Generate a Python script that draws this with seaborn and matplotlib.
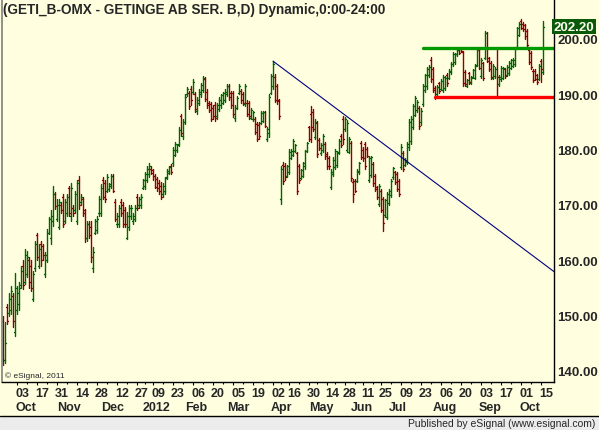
import numpy as np
import pandas as pd
import matplotlib
matplotlib.use('Agg')
import matplotlib.pyplot as plt
import matplotlib.transforms as mtransforms
from matplotlib.patches import Rectangle
from matplotlib.lines import Line2D
import seaborn as sns

# GETI_B daily bars, Sep 2011 - Oct 2012
highs = [
    150.0, 148.8, 152.0, 154.0, 155.3, 154.0, 157.7,
    155.3, 156.0, 159.0, 160.0, 162.0, 161.7, 160.5, 160.0, 158.0, 163.5,
    165.0, 163.0, 163.5, 163.0, 161.5, 165.6, 167.8, 169.0, 173.4, 172.3,
    171.0, 171.0, 170.5, 172.0, 171.0, 172.0, 173.5, 174.0, 170.0, 172.5,
    174.5, 175.2, 172.0, 171.5, 169.3, 167.0, 167.0, 167.0, 162.4, 167.4,
    168.0, 171.6, 173.8, 175.0, 174.5, 175.6, 174.0, 175.6, 175.6, 171.0,
    168.5, 170.0, 171.0, 170.5, 169.6, 168.7, 170.0, 170.0, 168.5, 170.0,
    172.0, 171.5, 172.0, 174.7, 176.0, 177.0, 177.5, 177.0,
    176.5, 175.5, 175.0, 174.5, 174.1, 174.0, 175.0, 176.5, 177.0, 177.4,
    180.5, 181.4, 181.0, 184.1, 186.4, 185.5, 190.0, 191.3, 190.6, 191.5,
    192.8, 190.4, 189.5, 191.0, 192.0, 193.3, 193.1, 191.0, 188.8, 188.6,
    188.0, 188.6, 188.5, 189.5, 190.0, 190.5, 191.0, 191.9, 191.9, 190.6, 190.6,
    188.0, 189.7, 191.9, 191.0, 190.5, 191.9, 189.0, 188.8, 187.5, 187.0,
    185.9, 185.0, 185.0, 187.0, 187.0, 187.0, 184.1, 190.0, 193.7, 196.0,
    193.7, 191.9, 189.2, 177.0, 177.8, 177.5, 177.2, 180.1,
    180.1, 181.9, 181.0, 179.6, 177.4, 176.5, 177.8, 180.0, 181.4, 184.3,
    187.9, 187.3, 185.5, 185.2, 182.1, 181.2, 182.8, 181.4, 179.6, 178.9,
    176.5, 178.6, 180.1, 179.8, 181.9, 182.8, 186.0, 185.9, 185.3, 182.3,
    181.6, 174.7, 174.7, 176.5, 177.8, 181.6, 180.4, 181.4, 180.4, 178.9,
    178.9, 177.8, 175.6, 173.5, 173.8, 172.9, 171.4, 171.1, 172.3, 172.9,
    174.7, 176.9, 176.2, 175.9, 174.7, 181.0, 179.7, 178.5, 181.4, 185.5,
    186.0, 188.2, 189.7, 189.0, 187.9, 187.5, 191.9, 193.7, 194.9, 195.3,
    196.7, 194.9, 191.5, 191.7, 192.2, 192.8, 193.5, 193.3, 193.8, 194.6, 195.8,
    197.6, 197.5, 198.2, 198.3, 198.6, 197.8, 194.4, 192.8, 194.0, 193.3,
    194.6, 195.5, 198.6, 198.3, 196.5, 195.9, 201.4, 201.3, 196.7, 196.0,
    195.5, 195.0, 198.6, 193.5, 195.1, 195.0, 194.8, 195.3, 196.0, 196.4,
    196.5, 198.6, 202.2, 203.1, 203.6, 203.0, 202.8, 201.8, 198.2, 197.8,
    194.6, 194.6, 193.7, 195.5, 196.4, 203.3,
]
lows = [
    141.0, 141.5, 148.5, 150.0, 150.3, 148.0, 146.3,
    150.3, 151.0, 155.0, 154.8, 155.7, 157.0, 155.0, 154.5, 152.6, 158.0,
    160.0, 158.5, 159.0, 160.0, 157.0, 159.7, 164.7, 163.0, 166.2, 169.3,
    167.0, 165.6, 168.5, 166.0, 166.7, 168.0, 168.0, 167.0, 168.0, 168.5,
    166.5, 169.3, 170.0, 168.0, 163.3, 163.5, 164.0, 159.7, 157.9, 164.7,
    165.0, 168.0, 168.0, 171.0, 170.5, 172.3, 172.5, 173.0, 172.3, 167.0,
    166.0, 166.0, 168.0, 166.0, 166.0, 163.8, 165.5, 167.5, 166.5, 167.0,
    169.0, 169.5, 169.5, 172.9, 172.9, 174.1, 175.0, 175.5,
    174.5, 173.0, 172.5, 172.0, 171.0, 171.5, 172.0, 174.7, 175.5, 175.6,
    177.0, 178.8, 179.5, 180.6, 182.5, 182.0, 184.6, 189.7, 187.3, 188.0,
    190.0, 186.8, 186.5, 188.0, 189.5, 190.4, 188.8, 187.5, 186.8, 185.2,
    185.5, 185.2, 185.5, 187.0, 187.5, 188.2, 188.6, 189.7, 189.0, 187.5, 185.9,
    185.2, 187.3, 190.0, 188.5, 188.0, 187.9, 186.0, 185.5, 185.5, 185.2,
    182.8, 181.6, 182.0, 184.6, 185.0, 184.0, 181.6, 182.3, 190.0, 191.0,
    188.6, 188.3, 185.5, 170.2, 173.8, 174.5, 175.0, 175.6,
    178.3, 178.8, 179.6, 172.0, 174.0, 174.6, 175.0, 176.5, 179.6, 181.6,
    181.4, 183.4, 181.9, 178.7, 180.0, 179.0, 179.6, 178.3, 176.5, 176.5,
    172.9, 175.3, 176.5, 176.8, 179.2, 180.4, 181.0, 183.4, 179.6, 179.3,
    174.3, 170.5, 172.3, 174.1, 175.6, 178.3, 178.0, 176.5, 178.6, 174.1,
    175.0, 173.5, 172.5, 171.1, 169.8, 168.7, 165.3, 167.8, 167.5, 169.9,
    171.4, 174.7, 173.8, 172.6, 171.6, 176.5, 176.1, 177.0, 177.4, 180.0,
    181.0, 183.7, 186.0, 186.8, 183.7, 184.5, 187.9, 190.4, 191.0, 193.1,
    192.2, 190.4, 189.2, 189.7, 190.2, 190.7, 190.4, 190.8, 191.5, 192.8, 193.7,
    195.1, 195.5, 197.0, 197.2, 197.6, 191.5, 191.5, 191.3, 191.8, 191.8,
    193.0, 192.8, 195.1, 194.5, 193.0, 192.6, 196.4, 195.8, 194.2, 192.8,
    192.8, 193.0, 189.5, 191.5, 192.4, 192.8, 193.0, 193.3, 193.5, 194.6,
    195.0, 195.1, 198.2, 200.5, 201.8, 201.5, 200.0, 198.6, 195.5, 194.6,
    192.2, 192.5, 191.9, 192.5, 192.2, 193.7,
]
opens = [
    149.0, 142.0, 151.5, 150.5, 151.0, 153.5, 147.0,
    151.0, 152.0, 155.5, 159.0, 156.0, 157.5, 160.0, 159.0, 153.0, 158.5,
    164.5, 159.0, 163.0, 162.5, 157.5, 160.0, 165.0, 164.0, 167.0, 172.0,
    167.5, 166.0, 170.0, 171.5, 167.0, 168.5, 173.0, 168.0, 169.5, 169.0,
    167.0, 174.5, 170.5, 171.0, 169.0, 164.0, 166.5, 166.0, 158.5, 165.0,
    165.5, 168.5, 168.5, 174.5, 174.0, 172.5, 172.8, 173.5, 175.2, 170.5,
    166.5, 166.5, 170.5, 170.0, 169.0, 164.0, 166.0, 168.0, 167.0, 167.5,
    171.5, 170.0, 170.0, 173.0, 173.5, 174.5, 175.5, 176.5,
    176.3, 175.2, 174.7, 174.0, 173.5, 172.0, 172.5, 175.0, 175.8, 177.0,
    177.5, 179.0, 180.0, 181.0, 186.0, 182.5, 185.0, 190.0, 190.2, 191.0,
    190.5, 190.0, 187.0, 188.5, 190.0, 190.8, 192.8, 190.5, 188.5, 188.2,
    187.5, 188.0, 186.0, 187.3, 188.0, 188.5, 189.0, 190.0, 191.5, 190.2, 190.2,
    185.8, 187.6, 190.2, 190.6, 190.0, 188.3, 188.5, 188.5, 185.8, 185.5,
    185.5, 184.7, 184.5, 184.8, 185.2, 186.8, 182.0, 183.0, 190.3, 191.5,
    193.2, 191.5, 189.0, 171.0, 177.3, 177.0, 175.3, 176.0,
    178.5, 179.0, 179.8, 179.3, 177.0, 174.8, 175.3, 177.0, 179.8, 184.0,
    186.5, 186.8, 182.3, 184.8, 181.8, 179.3, 180.0, 181.0, 179.2, 178.5,
    173.3, 175.6, 176.8, 177.3, 179.5, 182.5, 185.6, 183.7, 180.0, 179.6,
    181.2, 174.2, 174.3, 174.4, 175.9, 181.2, 180.0, 181.0, 180.1, 174.5,
    175.4, 177.4, 175.2, 173.2, 170.2, 172.6, 171.0, 168.1, 167.9, 170.3,
    171.7, 175.0, 176.0, 175.6, 174.4, 176.8, 179.4, 177.2, 177.7, 180.4,
    181.5, 184.0, 186.3, 187.2, 187.5, 185.0, 188.2, 190.7, 191.5, 193.4,
    196.2, 194.6, 191.2, 190.0, 192.0, 191.0, 190.8, 191.2, 193.5, 193.0, 194.0,
    195.4, 195.8, 197.2, 198.0, 198.4, 197.6, 194.0, 191.5, 193.8, 192.0,
    193.2, 193.0, 195.3, 198.0, 193.3, 195.6, 196.6, 201.0, 196.5, 195.7,
    193.0, 193.3, 198.3, 191.8, 192.7, 193.0, 194.6, 193.5, 193.8, 194.8,
    195.2, 195.4, 198.5, 200.8, 203.3, 202.7, 202.5, 201.5, 198.0, 197.5,
    194.3, 194.2, 193.4, 192.8, 196.0, 194.0,
]
closes = [
    142.0, 145.0, 149.0, 153.0, 154.5, 149.0, 155.0,
    154.0, 155.0, 158.0, 155.5, 161.0, 160.5, 156.0, 155.0, 157.5, 163.0,
    160.5, 162.0, 160.0, 161.0, 161.0, 165.0, 167.5, 168.0, 172.0, 169.8,
    170.0, 170.5, 169.0, 166.5, 170.5, 171.5, 168.5, 173.0, 168.5, 172.0,
    174.0, 170.0, 171.5, 168.5, 164.0, 166.5, 164.5, 160.5, 161.5, 167.0,
    167.5, 171.0, 173.0, 171.5, 171.0, 175.0, 173.8, 175.2, 172.5, 167.5,
    168.0, 169.5, 168.5, 166.5, 166.5, 168.0, 169.5, 169.5, 168.0, 169.5,
    169.5, 171.0, 171.5, 174.5, 175.5, 176.5, 177.0, 175.8,
    175.2, 173.3, 173.0, 172.5, 171.5, 173.5, 174.8, 176.2, 176.8, 176.0,
    180.0, 181.0, 180.8, 183.5, 183.0, 185.0, 189.5, 191.0, 187.8, 189.0,
    192.3, 187.3, 189.0, 190.5, 191.7, 193.0, 189.2, 188.0, 187.2, 185.6,
    186.0, 185.8, 188.0, 189.0, 189.8, 190.2, 190.5, 191.5, 189.5, 188.0, 186.5,
    187.5, 189.3, 191.5, 189.0, 188.5, 191.5, 186.5, 186.0, 187.2, 186.8,
    183.2, 182.0, 182.5, 186.7, 186.8, 184.3, 183.8, 189.5, 193.3, 195.5,
    189.0, 188.8, 186.0, 176.5, 174.3, 175.0, 177.0, 179.6,
    179.8, 181.5, 180.8, 172.5, 174.5, 176.3, 177.5, 179.8, 181.2, 182.0,
    184.0, 183.8, 185.0, 179.2, 180.3, 180.9, 182.4, 178.8, 177.0, 177.0,
    176.0, 178.2, 179.7, 179.4, 181.5, 180.8, 182.0, 185.5, 184.9, 181.9,
    174.8, 172.0, 172.6, 176.2, 177.5, 178.7, 178.4, 177.0, 178.9, 178.5,
    178.6, 173.9, 172.9, 171.5, 173.5, 169.1, 166.7, 170.8, 171.9, 172.6,
    174.4, 176.6, 174.1, 172.9, 172.0, 180.5, 176.5, 178.2, 181.0, 185.0,
    185.5, 187.8, 189.3, 188.6, 184.2, 187.0, 191.5, 193.4, 194.5, 195.0,
    192.8, 190.8, 189.6, 191.3, 190.6, 192.4, 193.1, 193.0, 192.0, 194.3, 195.5,
    197.3, 197.2, 198.0, 197.5, 197.8, 192.0, 191.8, 192.5, 192.2, 193.0,
    194.4, 195.2, 198.3, 194.8, 196.2, 192.9, 201.1, 196.0, 194.5, 193.1,
    195.2, 194.6, 193.2, 193.2, 194.8, 194.7, 193.3, 195.0, 195.7, 196.2,
    196.2, 198.3, 201.9, 202.8, 202.0, 201.8, 200.5, 199.0, 195.8, 195.0,
    192.6, 192.8, 192.2, 195.2, 194.5, 202.2,
]

# Stockholm holidays (no bars on these days)
holidays = ['2011-12-26', '2012-01-06', '2012-04-06', '2012-04-09',
            '2012-05-01', '2012-05-17', '2012-06-06', '2012-06-22']

tick_dates = ['2011-10-03', '2011-10-17', '2011-10-31', '2011-11-14', '2011-11-28',
              '2011-12-12', '2011-12-27', '2012-01-09', '2012-01-23', '2012-02-06',
              '2012-02-20', '2012-03-05', '2012-03-19', '2012-04-02', '2012-04-16',
              '2012-04-30', '2012-05-14', '2012-05-28', '2012-06-11', '2012-06-25',
              '2012-07-09', '2012-07-23', '2012-08-06', '2012-08-20', '2012-09-03',
              '2012-09-17', '2012-10-01', '2012-10-15']
minor_dates = ['2011-10-10', '2011-10-24', '2011-11-07', '2011-11-21', '2011-12-05',
               '2011-12-19', '2012-01-02', '2012-01-16', '2012-01-30', '2012-02-13',
               '2012-02-27', '2012-03-12', '2012-03-26', '2012-04-10', '2012-04-23',
               '2012-05-07', '2012-05-21', '2012-06-04', '2012-06-18', '2012-07-02',
               '2012-07-16', '2012-07-30', '2012-08-13', '2012-08-27', '2012-09-10',
               '2012-09-24', '2012-10-08']
month_labels = ['Oct', 'Nov', 'Dec', '2012', 'Feb', 'Mar', 'Apr', 'May', 'Jun',
                'Jul', 'Aug', 'Sep', 'Oct']
month_dates = ['2011-10-03', '2011-11-01', '2011-12-01', '2012-01-02', '2012-02-01',
               '2012-03-01', '2012-04-02', '2012-05-02', '2012-06-01', '2012-07-02',
               '2012-08-01', '2012-09-03', '2012-10-01']

price_ticks = [140, 150, 160, 170, 180, 190, 200]
last_price = 202.20

# drawn lines: falling trendline, resistance (green), support (red)
trend_dates = ['2012-04-02', '2012-10-24']
trend_prices = [196.0, 157.8]
resist_dates = ['2012-07-24', '2012-10-24']
resist_price = 198.3
support_dates = ['2012-08-01', '2012-10-24']
support_price = 189.5

BG = '#FFFFE0'
UP = '#006400'
DOWN = '#8B0000'

sns.set_style('white', {'axes.facecolor': BG, 'figure.facecolor': BG})
plt.rcParams['font.family'] = ['Liberation Sans', 'DejaVu Sans']

cal = pd.bdate_range('2011-09-22', '2012-11-30', freq='C', holidays=holidays)
def pos(d):
    return cal.get_loc(pd.Timestamp(d))

n = len(highs)
bars = pd.DataFrame({'i': np.arange(n), 'open': opens, 'high': highs,
                     'low': lows, 'close': closes})
bars['dir'] = np.where(bars['close'] >= bars['open'], 'up', 'down')

# one short line per range / open tick / close tick
rows = []
for r in bars.itertuples():
    rows += [('r%d' % r.i, r.dir, r.i, r.low), ('r%d' % r.i, r.dir, r.i, r.high),
             ('o%d' % r.i, r.dir, r.i - 0.6, r.open), ('o%d' % r.i, r.dir, r.i, r.open),
             ('c%d' % r.i, r.dir, r.i, r.close), ('c%d' % r.i, r.dir, r.i + 0.6, r.close)]
seg = pd.DataFrame(rows, columns=['seg', 'dir', 'x', 'price'])

W, H = 599, 431
fig = plt.figure(figsize=(W / 100, H / 100), dpi=100)
ax = fig.add_axes([1.5 / W, 48 / H, (554 - 1.5) / W, 383 / H])

sns.lineplot(data=seg, x='x', y='price', units='seg', estimator=None, hue='dir',
             palette={'up': UP, 'down': DOWN}, sort=False, legend=False,
             lw=1.0, ax=ax)

tx = [pos(d) for d in trend_dates]
sns.lineplot(x=tx, y=trend_prices, color='#000080', lw=0.8, ax=ax)
rx = [pos(d) for d in resist_dates]
sns.lineplot(x=rx, y=[resist_price] * 2, color='#009900', lw=2.4, ax=ax)
sx = [pos(d) for d in support_dates]
sns.lineplot(x=sx, y=[support_price] * 2, color='#FF0000', lw=2.4, ax=ax)

x_right = pos('2012-10-15') + 6.5
ax.set_xlim(-0.75, x_right)
ax.set_ylim(200 - 343 / 5.53, 200 + 40 / 5.53)
ax.set_xlabel('')
ax.set_ylabel('')

# x axis: day numbers on ticks, month names under them
major = [pos(d) for d in tick_dates]
ax.set_xticks(major)
ax.set_xticklabels([d[-2:] for d in tick_dates], fontweight='bold', fontsize=9, ha='left')
ax.set_xticks([pos(d) for d in minor_dates], minor=True)
ax.tick_params(axis='x', which='major', direction='out', length=2.5, width=0.8,
               color='black', pad=1, bottom=True)
ax.tick_params(axis='x', which='minor', direction='out', length=1.5, width=0.8,
               color='black', bottom=True)
shift = mtransforms.ScaledTranslation(-2 / 100, 0, fig.dpi_scale_trans)
for lab in ax.get_xticklabels():
    lab.set_transform(lab.get_transform() + shift)
for name, d in zip(month_labels, month_dates):
    ax.text(pos(d) - 1, -0.065, name, transform=ax.get_xaxis_transform(),
            ha='left', va='center', fontsize=9, fontweight='bold')

# y axis on the right
ax.yaxis.tick_right()
ax.set_yticks(price_ticks)
ax.set_yticklabels(['%.2f' % v for v in price_ticks], fontweight='bold', fontsize=9.5)
ax.tick_params(axis='y', length=0, pad=2.5)

ax.spines['top'].set_visible(False)
ax.spines['left'].set_color('#808080')
ax.spines['left'].set_linewidth(1.2)
ax.spines['right'].set_color('black')
ax.spines['right'].set_linewidth(1.0)
ax.spines['bottom'].set_color('black')
ax.spines['bottom'].set_linewidth(1.0)

# last price box
ax.text(1.0, last_price, '%.2f' % last_price,
        transform=mtransforms.blended_transform_factory(ax.transAxes, ax.transData),
        ha='left', va='center', fontsize=9.5, fontweight='bold', color='#FFFFF0',
        zorder=10, clip_on=False,
        bbox=dict(boxstyle='square,pad=0.12', facecolor='#0A5A0A', edgecolor='none'))

fig.text(3 / W, 1 - 10 / H, '(GETI_B-OMX - GETINGE AB SER. B,D) Dynamic,0:00-24:00',
         ha='left', va='center', fontsize=9.8, fontweight='bold')
fig.text(5 / W, 1 - 376 / H, '\u00a9 eSignal, 2011', ha='left', va='center', fontsize=6)

# footer strip
fig.patches.append(Rectangle((0, 0), 1, 14 / H, transform=fig.transFigure,
                             facecolor='#ECECEC', edgecolor='none', zorder=0))
fig.lines.append(Line2D([0, 1], [14 / H, 14 / H], transform=fig.transFigure,
                        color='black', lw=1.0))
fig.text(595 / W, 7 / H, 'Published by eSignal (www.esignal.com)', ha='right',
         va='center', fontsize=7.5)

fig.savefig('out.png', dpi=100, facecolor=BG)
